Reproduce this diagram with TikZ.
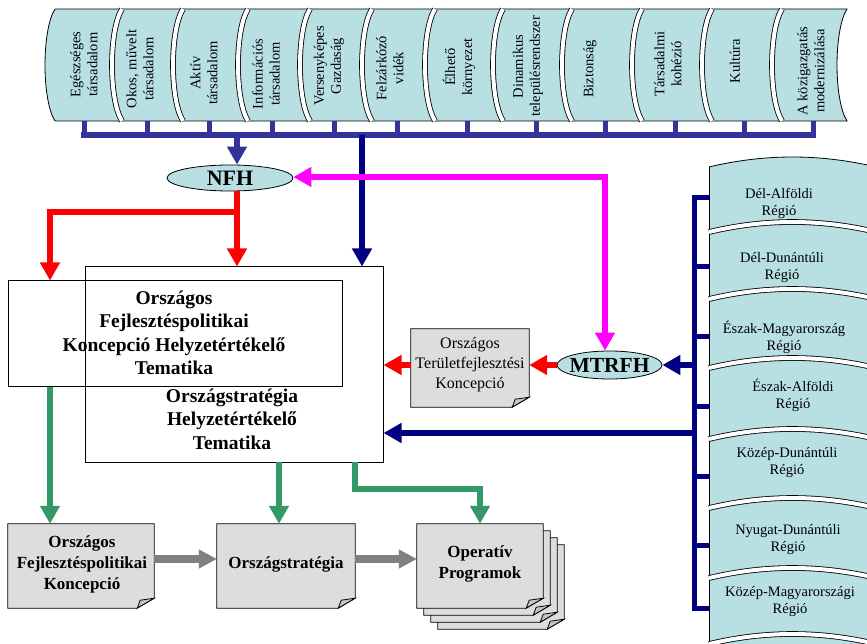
\documentclass[tikz,border=0pt]{standalone}
\usepackage{fontspec}
\setmainfont{Liberation Serif}
\usetikzlibrary{arrows.meta,shapes.geometric,calc}
\definecolor{cy}{HTML}{B8E0E3}
\definecolor{docg}{HTML}{DDDDDD}
\definecolor{foldg}{HTML}{C4C4C4}
\definecolor{busblue}{HTML}{333399}
\definecolor{navy}{HTML}{000080}
\definecolor{grn}{HTML}{339966}
\definecolor{mag}{HTML}{FF00FF}
\definecolor{grr}{HTML}{808080}
\newcommand\fsz[2]{\fontsize{#1}{#2}\selectfont}
\newcommand\docpage[2]{%
  \path[fill=docg,draw=black,line width=0.8pt] ($(#1.north west)+(#2,#2)$) -- ($(#1.north east)+(#2,#2)$) -- ($(#1.south east)+(#2,#2-10)$) -- ($(#1.south east)+(#2-17,#2)$) -- ($(#1.south west)+(#2,#2)$) -- cycle;
  \path[fill=foldg,draw=black,line width=0.8pt] ($(#1.south east)+(#2,#2-10)$) -- ($(#1.south east)+(#2-17,#2)$) -- ($(#1.south east)+(#2-14,#2-8)$) -- cycle;}
\begin{document}
\begin{tikzpicture}[x=1pt,y=-1pt,
  headA/.style={-{Triangle[length=18pt,width=19pt]}},
  rarr/.style={draw=red,line width=5.5pt,headA},
  narr/.style={draw=navy,line width=5.5pt,headA},
  barr/.style={draw=busblue,line width=5.5pt,headA},
  garr/.style={draw=grn,line width=6pt,headA},
  grarr/.style={draw=grr,line width=7.5pt,-{Triangle[length=18pt,width=18pt]}},
  parr/.style={draw=mag,line width=5.5pt,{Triangle[length=18pt,width=19pt]}-{Triangle[length=18pt,width=19pt]}},
  boxframe/.style={draw=black,line width=1pt,rectangle,inner sep=0pt},
  anchorbox/.style={rectangle,inner sep=0pt,draw=none},
  oval/.style={ellipse,draw=black,line width=0.8pt,fill=cy,inner sep=0pt},
  seglbl/.style={rotate=90,align=center,font=\fsz{14.5}{17},inner sep=0pt},
  reglbl/.style={align=center,font=\fsz{14.5}{17},inner sep=0pt},
  outl/.style={draw=black,line width=0.8pt},
  dbl/.style={draw=black,line width=0.8pt,double=white,double distance=4pt},
  bigtxt/.style={align=center,font={\fsz{19.5}{23.5}\bfseries},inner sep=0pt},
  bottxt/.style={align=center,font={\fsz{17}{21}\bfseries},inner sep=0pt},
]
\useasboundingbox (0,0) rectangle (867,644);

% ---- top band of scrolls
\foreach \L/\R [count=\i] in {45/112,112/173,173/238,238/300,300/362,362/425,425/493,493/562,562/632,632/702,702/772,772/837} {
  \fill[cy] (\L+10,9) -- (\R+10,9) .. controls (\R-3.33,30) and (\R-3.33,100) .. (\R+10,121) -- (\L+10,121) .. controls (\L-3.33,100) and (\L-3.33,30) .. (\L+10,9) -- cycle;
  \draw[outl] (\L+10,9) -- (\R+10,9) .. controls (\R-3.33,30) and (\R-3.33,100) .. (\R+10,121) -- (\L+10,121);
  \ifnum\i=1 \draw[outl] (\L+10,121) .. controls (\L-3.33,100) and (\L-3.33,30) .. (\L+10,9);
  \else \draw[dbl] (\L+10,121) .. controls (\L-3.33,100) and (\L-3.33,30) .. (\L+10,9); \fi
}
\node[seglbl] (s1) at (84,64.5) {Egészséges\\társadalom};
\node[seglbl] (s2) at (140,69) {Okos, művelt\\társadalom};
\node[seglbl] (s3) at (204,73) {Aktív\\társadalom};
\node[seglbl] (s4) at (266,74) {Információs\\társadalom};
\node[seglbl] (s5) at (329,66) {Versenyképes\\Gazdaság};
\node[seglbl] (s6) at (390,68) {Felzárkózó\\vidék};
\node[seglbl] (s7) at (459,67) {Élhető\\környezet};
\node[seglbl] (s8) at (528,66.5) {Dinamikus\\településrendszer};
\node[seglbl] (s9) at (590,69) {Biztonság};
\node[seglbl] (s10) at (668,64) {Társadalmi\\kohézió};
\node[seglbl] (s11) at (735,61) {Kultúra};
\node[seglbl] (s12) at (811,71) {A közigazgatás\\modernizálása};

% ---- bus
\foreach \t in {84,147,209,272,334,397,467,536,605,675,744,813}
  \draw[busblue,line width=5pt] (\t,121) -- (\t,135);
\draw[busblue,line width=6pt,line cap=rect] (84,135) -- (813,135);
\coordinate (busA) at (237,135);
\coordinate (busB) at (362,135);

% ---- regions
\begin{scope}
\clip (0,0) rectangle (867,644);
\foreach \a/\b [count=\k] in {167/232,232/299,299/368,368/439,439/508,508/578,578/644,644/712} {
  \fill[cy] (709,\a) .. controls (764.7,\a-13.33) and (820.3,\a-13.33) .. (876,\a) -- (876,\b) .. controls (820.3,\b-13.33) and (764.7,\b-13.33) .. (709,\b) -- cycle;
  \draw[outl] (709,\a) -- (709,\b);
  \ifnum\k=1 \draw[outl] (709,\a) .. controls (764.7,\a-13.33) and (820.3,\a-13.33) .. (876,\a);
  \else \draw[dbl] (709,\a) .. controls (764.7,\a-13.33) and (820.3,\a-13.33) .. (876,\a); \fi
}
\end{scope}
\node[reglbl] (r1) at (779,203) {Dél-Alföldi\\Régió};
\node[reglbl] (r2) at (782,268) {Dél-Dunántúli\\Régió};
\node[reglbl] (r3) at (784,337) {Észak-Magyarország\\Régió};
\node[reglbl] (r4) at (793,395) {Észak-Alföldi\\Régió};
\node[reglbl] (r5) at (787,463) {Közép-Dunántúli\\Régió};
\node[reglbl] (r6) at (788,540) {Nyugat-Dunántúli\\Régió};
\node[reglbl] (r7) at (790,602) {Közép-Magyarországi\\Régió};

% spine
\draw[navy,line width=5pt,line cap=rect] (694,198) -- (694,608);
\foreach \y in {198,267,336,406,476,545,608}
  \draw[navy,line width=5pt] (694,\y) -- (709,\y);
\coordinate (sp1) at (694,365);
\coordinate (sp2) at (694,433);

% ---- central boxes
\node[boxframe,minimum width=298pt,minimum height=195pt] (bigb) at (234,364.5) {};
\node[boxframe,minimum width=334pt,minimum height=105pt] (leftb) at (175,333.5) {};
\node[bigtxt] (leftt) at (174,333) {Országos\\Fejlesztéspolitikai\\Koncepció Helyzetértékelő\\Tematika};
\node[bigtxt] (bigt) at (232,419) {Országstratégia\\Helyzetértékelő\\Tematika};

% ellipses
\node[oval,minimum width=126pt,minimum height=26pt] (nfh) at (230,178) {};
\node[font={\fsz{22}{24}\bfseries},inner sep=0pt] (nfht) at (nfh) {NFH};
\node[oval,minimum width=105pt,minimum height=28pt] (mtrfh) at (609.5,365) {};
\node[font={\fsz{21.5}{24}\bfseries},inner sep=0pt] (mtrfht) at (mtrfh) {MTRFH};

% OTK document
\node[anchorbox,minimum width=118pt,minimum height=78pt] (otk) at (470,368) {};
\docpage{otk}{0}
\node[align=center,font=\fsz{16}{20},inner sep=0pt] (otkt) at (470,365) {Országos\\Területfejlesztési\\Koncepció};

% bottom documents
\node[anchorbox,minimum width=146pt,minimum height=84pt] (b1) at (81,566) {};
\node[anchorbox,minimum width=138pt,minimum height=84pt] (b2) at (286,566) {};
\node[anchorbox,minimum width=126pt,minimum height=84pt] (b3) at (480,566) {};
\docpage{b1}{0}
\docpage{b2}{0}
\docpage{b3}{21}
\docpage{b3}{14}
\docpage{b3}{7}
\docpage{b3}{0}
\node[bottxt] (b1t) at (82,564) {Országos\\Fejlesztéspolitikai\\Koncepció};
\node[bottxt] (b2t) at (286,564) {Országstratégia};
\node[bottxt] (b3t) at (480,563.5) {Operatív\\Programok};

% ---- connectors
\draw[barr] (busA) -- (busA |- nfh.north);
\draw[narr] (busB) -- (busB |- bigb.north);
\coordinate (rj) at (237,212);
\coordinate (lt) at (50,212);
\draw[rarr] (busA |- nfh.south) -- (busA |- bigb.north);
\draw[rarr] (rj) -- (lt) -- (lt |- leftb.north);
\coordinate (pk) at (605,177);
\draw[parr] (nfh.east |- pk) -- (pk) -- (pk |- mtrfh.north);
\draw[rarr] (mtrfh.west) -- (mtrfh.west -| otk.east);
\draw[rarr] (otk.west |- mtrfh.west) -- (bigb.east |- mtrfh.west);
\draw[narr] (sp1) -- (mtrfh.east);
\draw[narr] (sp2) -- (sp2 -| bigb.east);

\draw[garr] (lt |- leftb.south) -- (lt |- b1.north);
\coordinate (g2) at (279,462);
\draw[garr] (g2) -- (g2 |- b2.north);
\coordinate (g3) at (355,462);
\coordinate (g3b) at (355,489);
\draw[garr] (g3) -- (g3b) -| (b3.north);

\draw[grarr] ($(b1.east)+(0,-7)$) -- ($(b2.west)+(0,-7)$);
\draw[grarr] ($(b2.east)+(0,-7)$) -- ($(b3.west)+(0,-7)$);
\end{tikzpicture}
\end{document}
